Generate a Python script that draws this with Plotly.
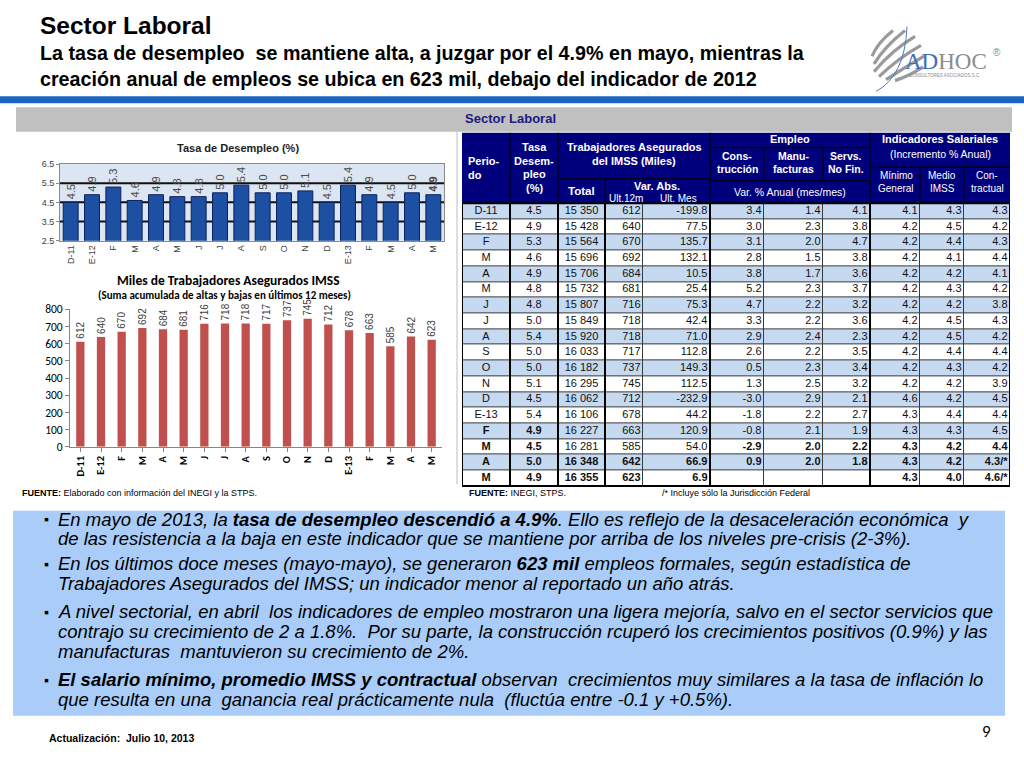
import plotly.graph_objects as go

W, H = 1024, 768
def X(p): return p / W
def Y(p): return 1 - p / H

# ---------------- data ----------------
periods = ["D-11", "E-12", "F", "M", "A", "M", "J", "J", "A", "S", "O", "N", "D", "E-13", "F", "M", "A", "M"]
tasa_desempleo = [4.5, 4.9, 5.3, 4.6, 4.9, 4.8, 4.8, 5.0, 5.4, 5.0, 5.0, 5.1, 4.5, 5.4, 4.9, 4.5, 5.0, 4.9]
imss_total = ["15 350", "15 428", "15 564", "15 696", "15 706", "15 732", "15 807", "15 849", "15 920",
              "16 033", "16 182", "16 295", "16 062", "16 106", "16 227", "16 281", "16 348", "16 355"]
imss_var_12m = [612, 640, 670, 692, 684, 681, 716, 718, 718, 717, 737, 745, 712, 678, 663, 585, 642, 623]
imss_var_mes = [-199.8, 77.5, 135.7, 132.1, 10.5, 25.4, 75.3, 42.4, 71.0, 112.8, 149.3, 112.5, -232.9,
                44.2, 120.9, 54.0, 66.9, 6.9]
construccion = [3.4, 3.0, 3.1, 2.8, 3.8, 5.2, 4.7, 3.3, 2.9, 2.6, 0.5, 1.3, -3.0, -1.8, -0.8, -2.9, 0.9, None]
manufacturas = [1.4, 2.3, 2.0, 1.5, 1.7, 2.3, 2.2, 2.2, 2.4, 2.2, 2.3, 2.5, 2.9, 2.2, 2.1, 2.0, 2.0, None]
servicios = [4.1, 3.8, 4.7, 3.8, 3.6, 3.7, 3.2, 3.6, 2.3, 3.5, 3.4, 3.2, 2.1, 2.7, 1.9, 2.2, 1.8, None]
sal_minimo = [4.1, 4.2, 4.2, 4.2, 4.2, 4.2, 4.2, 4.2, 4.2, 4.2, 4.2, 4.2, 4.6, 4.3, 4.3, 4.3, 4.3, 4.3]
sal_medio_imss = [4.3, 4.5, 4.4, 4.1, 4.2, 4.3, 4.2, 4.5, 4.5, 4.4, 4.3, 4.2, 4.2, 4.4, 4.3, 4.2, 4.2, 4.0]
sal_contractual = ["4.3", "4.2", "4.3", "4.4", "4.1", "4.2", "3.8", "4.3", "4.2", "4.4", "4.2", "3.9",
                   "4.5", "4.4", "4.5", "4.4", "4.3/*", "4.6/*"]

# ---------------- styles ----------------
NARROW = "Liberation Sans Narrow, Arial Narrow, Liberation Sans, sans-serif"
SANS = "Liberation Sans, Arial, sans-serif"
CAL = "Carlito, Lato, Liberation Sans, sans-serif"
NAVY = "#00007d"
idx = list(range(len(periods)))
nrows = len(periods)

fig = go.Figure()

# ---- chart 1: unemployment rate ----
t1_text = [f"{v:.1f}" for v in tasa_desempleo]
t1_text[-1] = "<b>" + t1_text[-1] + "</b>"
fig.add_trace(go.Bar(
    x=idx, y=tasa_desempleo, text=t1_text, textposition="outside", textangle=-90,
    textfont=dict(family=SANS, size=11, color="#4a4a4a"), cliponaxis=False, constraintext="none",
    marker=dict(color="#1d50a3", line=dict(color="#0b215e", width=1)), width=0.7,
    xaxis="x", yaxis="y", showlegend=False, hoverinfo="skip"))

# ---- chart 2: IMSS ----
fig.add_trace(go.Bar(
    x=idx, y=imss_var_12m, text=[str(v) for v in imss_var_12m], textposition="outside", textangle=-90,
    textfont=dict(family=SANS, size=10, color="#404040"), cliponaxis=False, constraintext="none",
    marker=dict(color="#c0504d", line=dict(width=0)), width=0.4,
    xaxis="x2", yaxis="y2", showlegend=False, hoverinfo="skip"))

# ---- table body (heatmap cells + text) ----
def fmt(v):
    return "" if v is None else f"{v:.1f}"

cols = [list(periods), [f"{v:.1f}" for v in tasa_desempleo], list(imss_total),
        [str(v) for v in imss_var_12m], [fmt(v) for v in imss_var_mes],
        [fmt(v) for v in construccion], [fmt(v) for v in manufacturas], [fmt(v) for v in servicios],
        [fmt(v) for v in sal_minimo], [fmt(v) for v in sal_medio_imss], list(sal_contractual)]
bold_rows = [{14, 15, 16, 17}, {14, 15, 16, 17}, {16, 17}, {16, 17}, {16, 17},
             {15, 16, 17}, {15, 16, 17}, {15, 16, 17}, {15, 16, 17}, {15, 16, 17}, {15, 16, 17}]
col_align = ["center", "center", "center", "right", "right", "right", "right", "right",
             "right", "right", "right"]
col_w = [48, 48, 47, 38, 67, 54, 59, 47, 50, 44, 46]
edges = [0]
for w in col_w:
    edges.append(edges[-1] + w)

fig.add_trace(go.Heatmap(
    x=edges, y=[r - 0.5 for r in range(nrows + 1)],
    z=[[r % 2 for _ in col_w] for r in range(nrows)],
    colorscale=[[0, "#c5d9f1"], [1, "#ffffff"]], zmin=0, zmax=1, showscale=False,
    xgap=1, ygap=1, xaxis="x3", yaxis="y3", hoverinfo="skip"))

for c, col in enumerate(cols):
    txt = [("<b>" + s + "</b>" if (r in bold_rows[c] and s) else s) for r, s in enumerate(col)]
    if col_align[c] == "center":
        xs = [(edges[c] + edges[c + 1]) / 2] * nrows
        pos = "middle center"
    else:
        xs = [edges[c + 1] - 2.5] * nrows
        pos = "middle left"
    fig.add_trace(go.Scatter(
        x=xs, y=list(range(nrows)), mode="text", text=txt, textposition=pos,
        textfont=dict(family=SANS, size=11, color="#111111"), xaxis="x3", yaxis="y3",
        showlegend=False, hoverinfo="skip", cliponaxis=False))

shapes = []
annotations = []

def rect(x0, y0, x1, y1, fill, line=None, lw=0, layer="below"):
    shapes.append(dict(type="rect", xref="paper", yref="paper", x0=X(x0), x1=X(x1), y0=Y(y1), y1=Y(y0),
                       fillcolor=fill, line=dict(color=line or fill, width=lw), layer=layer))

def hline(x0, x1, y, color, w, layer="above"):
    shapes.append(dict(type="line", xref="paper", yref="paper", x0=X(x0), x1=X(x1), y0=Y(y), y1=Y(y),
                       line=dict(color=color, width=w), layer=layer))

def vline(x, y0, y1, color, w, layer="above"):
    shapes.append(dict(type="line", xref="paper", yref="paper", x0=X(x), x1=X(x), y0=Y(y0), y1=Y(y1),
                       line=dict(color=color, width=w), layer=layer))

def text(x, y, s, size, color="black", family=SANS, xanchor="left", bold=False, italic=False):
    annotations.append(dict(xref="paper", yref="paper", x=X(x), y=Y(y), text=s, showarrow=False,
                            xanchor=xanchor, yanchor="middle",
                            font=dict(family=family, size=size, color=color,
                                      weight="bold" if bold else "normal",
                                      style="italic" if italic else "normal")))

# slide titles
text(38, 19, "Sector Laboral", 24.5, "#000000", bold=True)
text(38, 47, "La tasa de desempleo  se mantiene alta, a juzgar por el 4.9% en mayo, mientras la", 19.7,
     "#000000", family=NARROW, bold=True)
text(38, 73, "creación anual de empleos se ubica en 623 mil, debajo del indicador de 2012", 19.7,
     "#000000", family=NARROW, bold=True)

# top blue rule and grey band
rect(0, 91, 1024, 98, "#1b64c0")
rect(16, 102, 1012, 127, "#c0c0c0")
text(463, 114, "Sector Laboral", 13, color="#1a1a80", bold=True)
vline(457, 127, 486, "#bdbdbd", 1)

# chart 1 background + gridlines
shapes.append(dict(type="rect", xref="x domain", yref="y domain", x0=0, x1=1, y0=0, y1=1,
                   fillcolor="#dce6f2", line=dict(width=0), layer="below"))
for v in [3.5, 4.5, 5.5]:
    shapes.append(dict(type="line", xref="x domain", yref="y", x0=0, x1=1, y0=v, y1=v,
                       line=dict(color="#111111", width=2), layer="below"))

# table body frame: dark background showing through cell gaps, thick group separators
shapes.append(dict(type="rect", xref="x3 domain", yref="y3 domain", x0=0, x1=1, y0=0, y1=1,
                   fillcolor="#3a3a3a", line=dict(width=0), layer="below"))
for e in [edges[0], edges[1], edges[2], edges[3], edges[5], edges[8], edges[11]]:
    shapes.append(dict(type="line", xref="x3", yref="y3 domain", x0=e, x1=e, y0=0, y1=1,
                       line=dict(color="#000000", width=2), layer="above"))
shapes.append(dict(type="line", xref="x3 domain", yref="y3 domain", x0=0, x1=1, y0=0, y1=0,
                   line=dict(color="#000000", width=2), layer="above"))

# table header
rect(462, 128, 1010, 200, NAVY)
HL = "#000022"
for x in [510, 558, 710, 870]:
    vline(x, 128, 200, HL, 1.5)
vline(605, 175, 200, HL, 1.5)
hline(558, 710, 175, HL, 1.5)
vline(764, 143, 177, HL, 1.5)
vline(823, 143, 177, HL, 1.5)
hline(710, 870, 143, HL, 1.5)
hline(710, 870, 177, HL, 1.5)
hline(870, 1010, 163, HL, 1.5)
vline(920, 163, 200, HL, 1.5)
vline(964, 163, 200, HL, 1.5)
hline(462, 1010, 200, "#000000", 2)

WH = "#ffffff"
text(466, 157, "Perio-", 11, WH, bold=True)
text(466, 171, "do", 11, WH, bold=True)
for yy, s in [(143, "Tasa"), (157, "Desem-"), (170, "pleo"), (184, "(%)")]:
    text(534, yy, s, 11, WH, xanchor="center", bold=True)
text(634, 143, "Trabajadores Asegurados", 11, WH, xanchor="center", bold=True)
text(634, 157, "del IMSS (Miles)", 11, WH, xanchor="center", bold=True)
text(581, 187, "Total", 11.5, WH, xanchor="center", bold=True)
text(657, 182, "Var. Abs.", 11, WH, xanchor="center", bold=True)
text(626, 195, "Ult.12m", 10, WH, xanchor="center")
text(678, 195, "Ult. Mes", 10, WH, xanchor="center")
text(790, 134, "Empleo", 11, WH, xanchor="center", bold=True)
for cx, a, b in [(737, "Cons-", "trucción"), (793, "Manu-", "facturas"), (846, "Servs.", "No Fin.")]:
    text(cx, 152, a, 10.5, WH, xanchor="center", bold=True)
    text(cx, 165, b, 10.5, WH, xanchor="center", bold=True)
text(790, 188, "Var. % Anual (mes/mes)", 10.5, WH, xanchor="center")
text(940, 134, "Indicadores Salariales", 11, WH, xanchor="center", bold=True)
text(940, 150, "(Incremento % Anual)", 10.5, WH, xanchor="center")
for cx, a, b in [(896, "Mínimo", "General"), (942, "Medio", "IMSS"), (987, "Con-", "tractual")]:
    text(cx, 172, a, 10, WH, xanchor="center")
    text(cx, 185, b, 10, WH, xanchor="center")

# chart titles
text(238, 144, "Tasa de Desempleo (%)", 11, "#1e1e1e", xanchor="center", bold=True)
text(228, 279, "Miles de Trabajadores Asegurados IMSS", 13.5, "#000000", family=CAL, xanchor="center", bold=True)
text(224, 294, "(Suma acumulada de altas y bajas en últimos 12 meses)", 11, "#000000", family=CAL,
     xanchor="center", bold=True)

# sources
text(20, 495, "<b>FUENTE:</b> Elaborado con información del INEGI y la STPS.", 9, "#000000", family=NARROW)
text(467, 495, "<b>FUENTE:</b> INEGI, STPS.", 9, "#000000", family=NARROW)
text(660, 495, "/* Incluye sólo la Jurisdicción Federal", 9, "#000000", family=NARROW)

# text box
rect(13, 513, 1005, 722, "#a9cdf8")
FS = 18.5
bul = [
    (522, True, "En mayo de 2013, la <b>tasa de desempleo descendió a 4.9%</b>. Ello es reflejo de la desaceleración económica  y"),
    (541, False, "de las resistencia a la baja en este indicador que se mantiene por arriba de los niveles pre-crisis (2-3%)."),
    (567, True, "En los últimos doce meses (mayo-mayo), se generaron <b>623 mil</b> empleos formales, según estadística de"),
    (587, False, "Trabajadores Asegurados del IMSS; un indicador menor al reportado un año atrás."),
    (616, True, "A nivel sectorial, en abril  los indicadores de empleo mostraron una ligera mejoría, salvo en el sector servicios que"),
    (636, False, "contrajo su crecimiento de 2 a 1.8%.  Por su parte, la construcción rcuperó los crecimientos positivos (0.9%) y las"),
    (656, False, "manufacturas  mantuvieron su crecimiento de 2%."),
    (685, True, "<b>El salario mínimo, promedio IMSS y contractual</b> observan  crecimientos muy similares a la tasa de inflación lo"),
    (705, False, "que resulta en una  ganancia real prácticamente nula  (fluctúa entre -0.1 y +0.5%)."),
]
for yy, b, s in bul:
    if b:
        text(42, yy, "▪", 14, "#000000")
    text(56, yy, s, FS, "#000000", family=NARROW, italic=True)

# footer
text(47, 745, "Actualización:  Julio 10, 2013", 10.5, "#000000", family=NARROW, bold=True)
text(986, 738, "9", 17, "#000000", family=CAL, xanchor="center")

# logo
def path_q(p0, c, p1):
    return f"M {X(p0[0])},{Y(p0[1])} Q {X(c[0])},{Y(c[1])} {X(p1[0])},{Y(p1[1])}"

stripes = [((874, 58), (885, 40), (905, 24)), ((874, 66), (892, 44), (915, 30)),
           ((879, 71), (898, 52), (921, 39)), ((886, 74), (904, 62), (924, 50)),
           ((895, 75), (910, 70), (923, 61)), ((872, 50), (878, 36), (893, 24))]
for p0, c, p1 in stripes:
    shapes.append(dict(type="path", xref="paper", yref="paper", path=path_q(p0, c, p1),
                       line=dict(color="#9a9a9a", width=3.2), layer="above"))
shapes.append(dict(type="path", xref="paper", yref="paper", path=path_q((907, 20), (905, 70), (876, 86)),
                   line=dict(color="#4d78c4", width=1), layer="above"))
annotations.append(dict(xref="paper", yref="paper", x=X(903), y=Y(56), showarrow=False, xanchor="left",
                        yanchor="middle", text="<span style='color:#3c6dc0'>AD</span>HOC",
                        font=dict(family="Liberation Serif, DejaVu Serif, serif", size=23, color="#8c8c8c")))
text(991, 46, "®", 10, "#8c8c8c")
text(945, 70, "CONSULTORES ASOCIADOS S.C.", 4.5, "#8c8c8c", xanchor="center")

fig.update_layout(
    width=W, height=H, autosize=False, margin=dict(l=0, r=0, t=0, b=0),
    paper_bgcolor="white", plot_bgcolor="rgba(0,0,0,0)",
    shapes=shapes, annotations=annotations,
    xaxis=dict(domain=[X(60), X(444)], range=[-0.5, 17.5], tickvals=idx, ticktext=periods, tickangle=-90,
               tickfont=dict(family=SANS, size=9, color="#404040"), showline=True, mirror=True,
               linecolor="#8a8a8a", showgrid=False, zeroline=False, ticks="", anchor="y", fixedrange=True),
    yaxis=dict(domain=[Y(238), Y(160)], range=[2.5, 6.5], tickvals=[2.5, 3.5, 4.5, 5.5, 6.5],
               ticktext=["2.5", "3.5", "4.5", "5.5", "6.5"], tickfont=dict(family=SANS, size=9, color="#404040"),
               showline=True, mirror=True, linecolor="#8a8a8a", showgrid=False, zeroline=False,
               ticks="outside", ticklen=3, tickcolor="#8a8a8a", anchor="x", fixedrange=True),
    xaxis2=dict(domain=[X(70), X(442)], range=[-0.5, 17.5], tickvals=idx,
                ticktext=["<b>" + p + "</b>" for p in periods], tickangle=-90,
                tickfont=dict(family=CAL, size=10.5, color="#000000"), showline=True, linecolor="#868686",
                showgrid=False, zeroline=False, ticks="outside", tickson="boundaries", ticklen=4,
                tickcolor="#868686", anchor="y2", fixedrange=True),
    yaxis2=dict(domain=[Y(448), Y(308)], range=[0, 800], dtick=100,
                tickfont=dict(family=CAL, size=11.5, color="#000000"), showline=True, linecolor="#868686",
                showgrid=False, zeroline=False, ticks="outside", ticklen=4, tickcolor="#868686",
                anchor="x2", fixedrange=True),
    xaxis3=dict(domain=[X(462), X(1010)], range=[0, edges[-1]], visible=False, anchor="y3", fixedrange=True),
    yaxis3=dict(domain=[Y(488), Y(200)], range=[nrows - 0.5, -0.5], visible=False, anchor="x3",
                fixedrange=True),
)

fig.write_html("out.html", config={"displayModeBar": False},
               post_script="document.body.style.margin='0';document.body.style.overflow='hidden';")
